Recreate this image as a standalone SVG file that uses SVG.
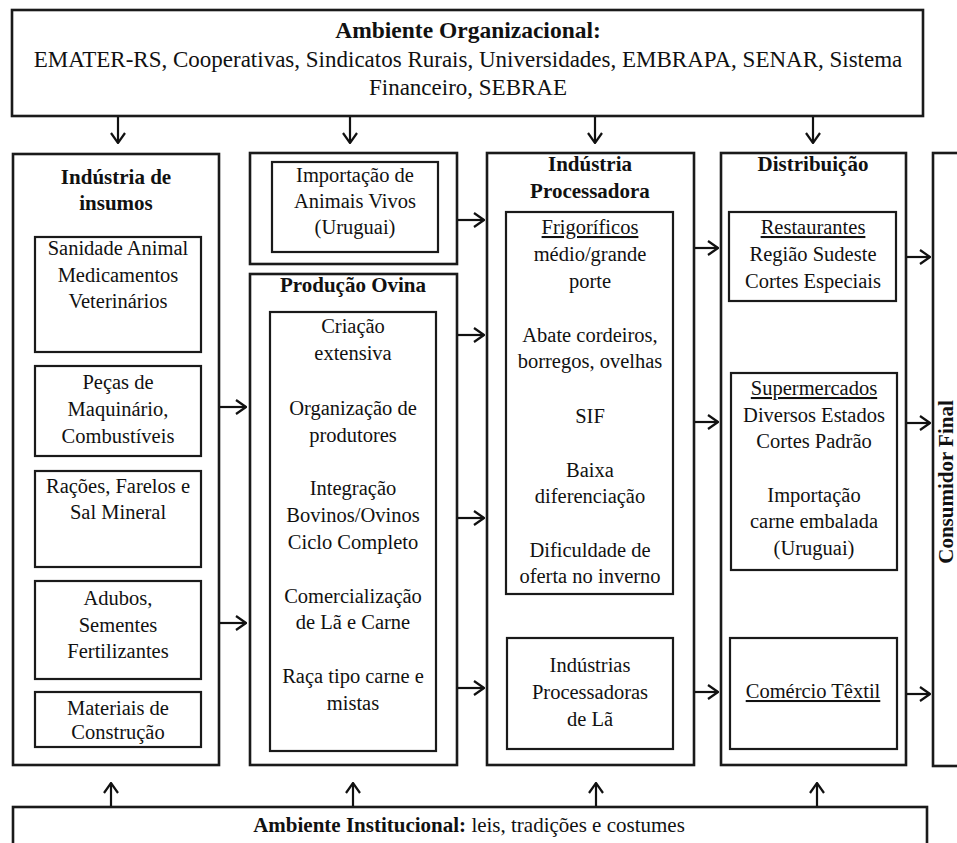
<svg xmlns="http://www.w3.org/2000/svg" width="957" height="843" viewBox="0 0 957 843">
<defs>
<marker id="ah" viewBox="0 0 12 16" refX="11" refY="8" markerWidth="12" markerHeight="16" markerUnits="userSpaceOnUse" orient="auto">
<path d="M1 1 L11 8 L1 15" fill="none" stroke="#111" stroke-width="2.2"/>
</marker>
</defs>
<style>
.ob{fill:#fff;stroke:#1a1a1a;stroke-width:2.6}
.ib{fill:#fff;stroke:#1a1a1a;stroke-width:2.2}
text{font-family:"Liberation Serif","Times New Roman",serif;fill:#111;text-anchor:middle}
.t{font-size:20.5px}
.b{font-size:21px;font-weight:bold}
.u{text-decoration:underline}
.c line{stroke:#111;stroke-width:2.2;marker-end:url(#ah)}
</style>
<rect width="957" height="843" fill="#fff"/>

<g id="ambiente-organizacional">
<rect class="ob" x="12" y="10" width="911" height="106"/>
<text x="468" y="38" style="font-size:23.5px;font-weight:bold">Ambiente Organizacional:</text>
<text x="468" y="67" style="font-size:23px">EMATER-RS, Cooperativas, Sindicatos Rurais, Universidades, EMBRAPA, SENAR, Sistema</text>
<text x="468" y="95" style="font-size:23px">Financeiro, SEBRAE</text>
</g>

<g id="industria-insumos">
<rect class="ob" x="13" y="154" width="206" height="611"/>
<text class="b" x="116" y="184">Indústria de</text>
<text class="b" x="116" y="210">insumos</text>
<g id="sanidade">
<rect class="ib" x="35" y="237" width="166" height="115"/>
<text class="t" x="118" y="255">Sanidade Animal</text>
<text class="t" x="118" y="282">Medicamentos</text>
<text class="t" x="118" y="308">Veterinários</text>
</g>
<g id="pecas">
<rect class="ib" x="35" y="366" width="166" height="90"/>
<text class="t" x="118" y="389">Peças de</text>
<text class="t" x="118" y="416">Maquinário,</text>
<text class="t" x="118" y="443">Combustíveis</text>
</g>
<g id="racoes">
<rect class="ib" x="35" y="471" width="166" height="96"/>
<text class="t" x="118" y="493">Rações, Farelos e</text>
<text class="t" x="118" y="519">Sal Mineral</text>
</g>
<g id="adubos">
<rect class="ib" x="35" y="581" width="166" height="98"/>
<text class="t" x="118" y="605">Adubos,</text>
<text class="t" x="118" y="632">Sementes</text>
<text class="t" x="118" y="658">Fertilizantes</text>
</g>
<g id="materiais">
<rect class="ib" x="35" y="692" width="166" height="55"/>
<text class="t" x="118" y="715">Materiais de</text>
<text class="t" x="118" y="739">Construção</text>
</g>
</g>

<g id="importacao-animais">
<rect class="ob" x="250" y="153" width="207" height="111"/>
<rect class="ib" x="272" y="162" width="166" height="90"/>
<text class="t" x="355" y="182">Importação de</text>
<text class="t" x="355" y="208">Animais Vivos</text>
<text class="t" x="355" y="234">(Uruguai)</text>
</g>

<g id="producao-ovina">
<rect class="ob" x="250" y="274" width="207" height="491"/>
<text class="b" x="353" y="292">Produção Ovina</text>
<rect class="ib" x="270" y="312" width="166" height="439"/>
<text class="t" x="353" y="333">Criação</text>
<text class="t" x="353" y="360">extensiva</text>
<text class="t" x="353" y="415">Organização de</text>
<text class="t" x="353" y="442">produtores</text>
<text class="t" x="353" y="495">Integração</text>
<text class="t" x="353" y="522">Bovinos/Ovinos</text>
<text class="t" x="353" y="549">Ciclo Completo</text>
<text class="t" x="353" y="603">Comercialização</text>
<text class="t" x="353" y="629">de Lã e Carne</text>
<text class="t" x="353" y="683">Raça tipo carne e</text>
<text class="t" x="353" y="710">mistas</text>
</g>

<g id="industria-processadora">
<rect class="ob" x="487" y="153" width="207" height="612"/>
<text class="b" x="590" y="171">Indústria</text>
<text class="b" x="590" y="198">Processadora</text>
<g id="frigorificos">
<rect class="ib" x="506" y="212" width="167" height="382"/>
<text class="t u" x="590" y="234">Frigoríficos</text>
<text class="t" x="590" y="261">médio/grande</text>
<text class="t" x="590" y="288">porte</text>
<text class="t" x="590" y="342">Abate cordeiros,</text>
<text class="t" x="590" y="368">borregos, ovelhas</text>
<text class="t" x="590" y="423">SIF</text>
<text class="t" x="590" y="477">Baixa</text>
<text class="t" x="590" y="503">diferenciação</text>
<text class="t" x="590" y="557">Dificuldade de</text>
<text class="t" x="590" y="583">oferta no inverno</text>
</g>
<g id="industrias-la">
<rect class="ib" x="507" y="638" width="166" height="111"/>
<text class="t" x="590" y="672">Indústrias</text>
<text class="t" x="590" y="699">Processadoras</text>
<text class="t" x="590" y="726">de Lã</text>
</g>
</g>

<g id="distribuicao">
<rect class="ob" x="721" y="153" width="185" height="612"/>
<text class="b" x="813" y="171">Distribuição</text>
<g id="restaurantes">
<rect class="ib" x="729" y="212" width="167" height="89"/>
<text class="t u" x="813" y="234">Restaurantes</text>
<text class="t" x="813" y="261">Região Sudeste</text>
<text class="t" x="813" y="288">Cortes Especiais</text>
</g>
<g id="supermercados">
<rect class="ib" x="731" y="373" width="166" height="197"/>
<text class="t u" x="814" y="395">Supermercados</text>
<text class="t" x="814" y="422">Diversos Estados</text>
<text class="t" x="814" y="448">Cortes Padrão</text>
<text class="t" x="814" y="502">Importação</text>
<text class="t" x="814" y="528">carne embalada</text>
<text class="t" x="814" y="555">(Uruguai)</text>
</g>
<g id="comercio-textil">
<rect class="ib" x="730" y="638" width="167" height="111"/>
<text class="t u" x="813" y="698">Comércio Têxtil</text>
</g>
</g>

<g id="consumidor-final">
<rect class="ob" x="933" y="153" width="40" height="613"/>
<text class="b" transform="translate(953 482) rotate(-90)" x="0" y="0">Consumidor Final</text>
</g>

<g id="ambiente-institucional">
<rect class="ob" x="13" y="807" width="914" height="50"/>
<text x="469" y="832" style="font-size:21px"><tspan font-weight="bold">Ambiente Institucional:</tspan> leis, tradições e costumes</text>
</g>

<g id="connectors" class="c">
<line x1="118" y1="117" x2="118" y2="143"/>
<line x1="350" y1="117" x2="350" y2="143"/>
<line x1="595" y1="117" x2="595" y2="143"/>
<line x1="813" y1="117" x2="813" y2="143"/>
<line x1="111" y1="806" x2="111" y2="783"/>
<line x1="353" y1="806" x2="353" y2="783"/>
<line x1="596" y1="806" x2="596" y2="783"/>
<line x1="817" y1="806" x2="817" y2="783"/>
<line x1="220" y1="407" x2="246" y2="407"/>
<line x1="220" y1="623" x2="246" y2="623"/>
<line x1="458" y1="220" x2="484" y2="220"/>
<line x1="458" y1="335" x2="484" y2="335"/>
<line x1="458" y1="518" x2="484" y2="518"/>
<line x1="458" y1="688" x2="484" y2="688"/>
<line x1="695" y1="248" x2="718" y2="248"/>
<line x1="695" y1="422" x2="718" y2="422"/>
<line x1="695" y1="692" x2="718" y2="692"/>
<line x1="907" y1="257" x2="930" y2="257"/>
<line x1="907" y1="423" x2="930" y2="423"/>
<line x1="907" y1="694" x2="930" y2="694"/>
</g>
</svg>
